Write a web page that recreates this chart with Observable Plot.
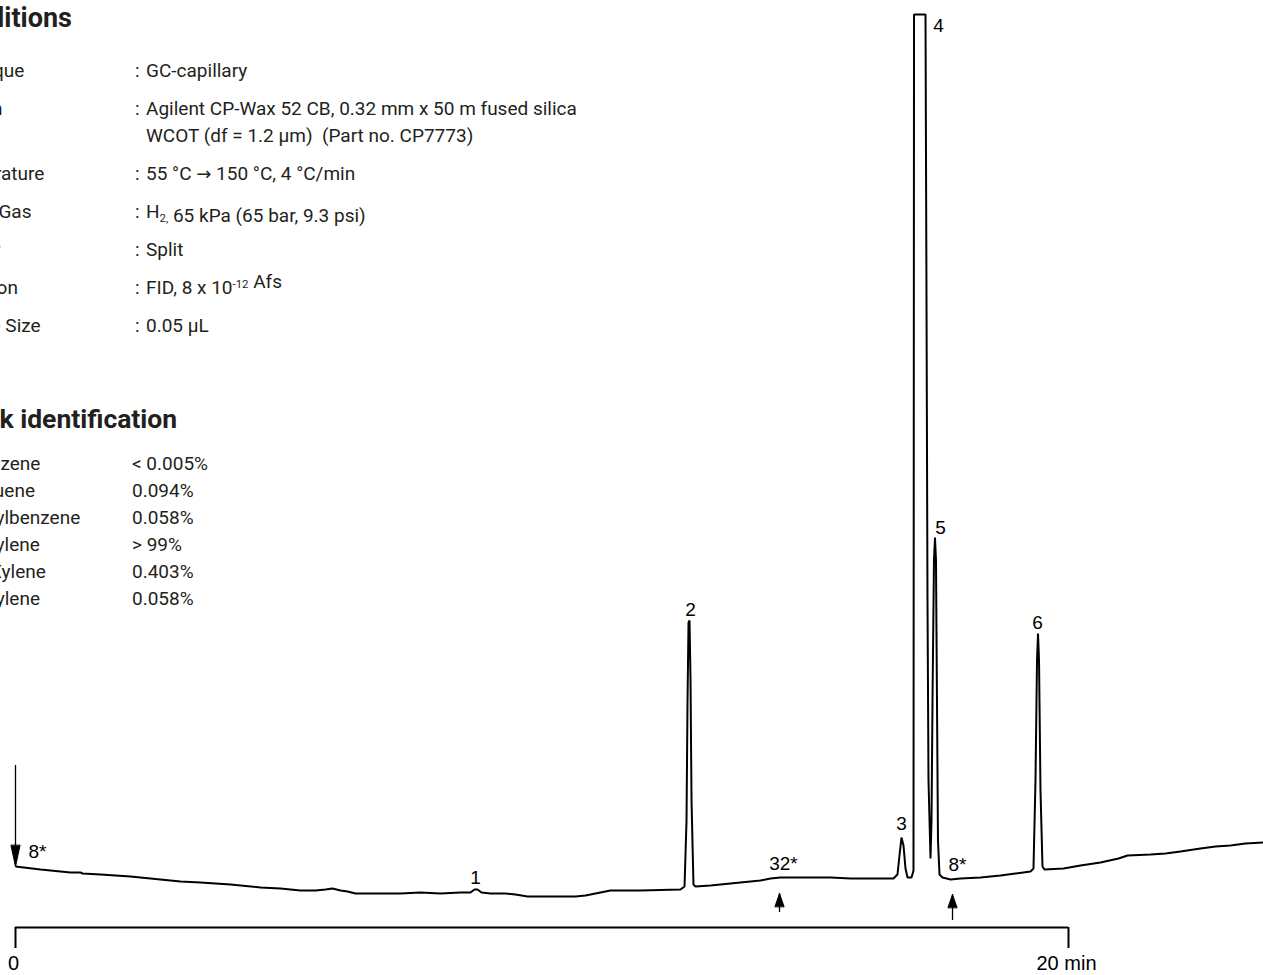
<!DOCTYPE html>
<html>
<head>
<meta charset="utf-8">
<script src="https://cdn.jsdelivr.net/npm/d3@7"></script>
<script src="https://cdn.jsdelivr.net/npm/@observablehq/plot@0.6"></script>
<style>
  html, body { margin: 0; padding: 0; background: #fff; }
  #wrap { position: relative; width: 1263px; height: 975px; overflow: hidden; }
</style>
</head>
<body>
<div id="wrap"></div>
<script>
// ---------- Chromatogram trace (retention time in min, detector response in arbitrary units) ----------
const traceTime = [
  0, 0.475, 1.045, 1.235, 1.273, 1.614, 2.184, 2.564, 2.944, 3.134, 3.514, 4.084, 4.653, 5.033,
  5.413, 5.698, 5.888, 6.021, 6.173, 6.306, 6.458, 6.932, 7.312, 7.692, 8.072, 8.452, 8.642,
  8.718, 8.775, 8.851, 9.022, 9.307, 9.497, 9.725, 10.066, 10.351, 10.636, 10.826, 11.111,
  11.301, 11.871, 12.630, 12.707, 12.745, 12.764, 12.783, 12.802, 12.821, 12.840, 12.877,
  12.916, 13.200, 13.580, 13.960, 14.150, 14.340, 14.530, 14.910, 15.480, 15.859, 16.239,
  16.676, 16.752, 16.790, 16.828, 16.866, 16.904, 16.942, 17.018, 17.056, 17.066, 17.284,
  17.303, 17.322, 17.341, 17.379, 17.398, 17.417, 17.445, 17.464, 17.483, 17.502, 17.521,
  17.550, 17.607, 17.759, 17.949, 18.329, 18.708, 18.993, 19.278, 19.335, 19.373, 19.402,
  19.421, 19.440, 19.468, 19.506, 19.544, 19.905, 20.228, 20.608, 20.950, 21.121, 21.557,
  21.842, 22.127, 22.507, 22.792, 23.077, 23.362, 23.704
];
const traceSignal = [
  61, 58, 55, 55, 54, 53, 51, 49, 47, 46, 45, 43, 40, 39,
  37, 37, 38, 39, 37, 36, 34, 34, 34, 35, 34, 35, 35,
  38, 38, 35, 34, 34, 33, 31, 31, 31, 31, 32, 35,
  37, 37, 38, 41, 107, 227, 305, 307, 247, 127, 43,
  41, 42, 44, 46, 47, 49, 50, 50, 50, 49, 49,
  49, 53, 72, 90, 82, 59, 50, 50, 57, 913, 913,
  627, 327, 147, 69, 107, 227, 367, 390, 367, 227, 87,
  53, 50, 48, 49, 50, 52, 54, 56, 59, 147, 267,
  294, 267, 137, 61, 58, 59, 62, 65, 69, 72, 73,
  74, 76, 79, 81, 82, 84, 85
];

// ---------- Peak numbers ----------
const peakNumbers = ["1", "2", "3", "4", "5", "6"];
const peakLabelTime = [8.737, 12.821, 16.828, 17.531, 17.569, 19.411];
const peakLabelSignal = [50, 318, 104, 902, 400, 305];

// ---------- Attenuation changes ----------
const attenText = ["8*", "32*", "8*"];
const attenLabelTime = [0.418, 14.587, 17.892];
const attenLabelSignal = [76, 64, 63];
const attenArrowTime = [0, 14.511, 17.797];
const attenArrowTip = [61, 34, 33];
const attenArrowTail = [162, 15, 7];
const attenArrowDir = ["down", "up", "up"];

// ---------- Time axis ----------
const axisTicks = [0, 20];
const axisTickLabels = ["0", "20 min"];

// ---------- Conditions & peak identification ----------
const conditionsTitle = "Conditions";
const conditionLabels = ["Technique", "Column", "Temperature", "Carrier Gas", "Injector", "Detection", "Sample Size"];
const conditionValues = [
  ["GC-capillary"],
  ["Agilent CP-Wax 52 CB, 0.32 mm x 50 m fused silica", "WCOT (df = 1.2 µm)  (Part no. CP7773)"],
  ["55 °C → 150 °C, 4 °C/min"],
  ["H_{2,} 65 kPa (65 bar, 9.3 psi)"],
  ["Split"],
  ["FID, 8 x 10^{-12} Afs"],
  ["0.05 µL"]
];
const peakTitle = "Peak identification";
const peakNames = ["Benzene", "Toluene", "Ethylbenzene", "p-Xylene", "m-Xylene", "o-Xylene"];
const peakAmounts = ["< 0.005%", "0.094%", "0.058%", "> 99%", "0.403%", "0.058%"];

// ---------- Build tables ----------
const trace = traceTime.map((t, i) => ({t, s: traceSignal[i]}));
const peaks = peakNumbers.map((n, i) => ({n, t: peakLabelTime[i], s: peakLabelSignal[i]}));
const atten = attenText.map((a, i) => ({
  a, t: attenLabelTime[i], s: attenLabelSignal[i], at: attenArrowTime[i],
  tip: attenArrowTip[i], tail: attenArrowTail[i], dir: attenArrowDir[i]
}));
const axisLabelData = axisTicks.map((t, i) => ({t, label: axisTickLabels[i]}));

const LABEL_FONT = "'Liberation Sans', Arial, Helvetica, sans-serif";

const headShape = {
  draw(context, l, r) {
    context.moveTo(-r, 0);
    context.lineTo(0, -l);
    context.lineTo(r, 0);
    context.closePath();
  }
};

const plot = Plot.plot({
  width: 1263,
  height: 975,
  margin: 0,
  x: {domain: [-0.2849, 23.7037], axis: null},
  y: {domain: [-48, 927], axis: null},
  style: {background: "#fff", color: "#000"},
  marks: [
    // time axis
    Plot.ruleY([0], {x1: 0, x2: 20, stroke: "#000", strokeWidth: 2}),
    Plot.ruleX(axisTicks, {y1: 0, y2: -21, stroke: "#000", strokeWidth: 2}),
    Plot.text(axisLabelData, {x: "t", y: -36, text: "label", fontSize: 20, fontFamily: LABEL_FONT, fill: "#000", dx: -2}),
    // trace
    Plot.line(trace, {x: "t", y: "s", stroke: "#000", strokeWidth: 2, strokeLinejoin: "miter", strokeLinecap: "butt"}),
    // peak numbers
    Plot.text(peaks, {x: "t", y: "s", text: "n", fontSize: 19, fontFamily: LABEL_FONT, fill: "#000"}),
    // attenuation arrows
    Plot.ruleX(atten, {x: "at", y1: "tip", y2: "tail", stroke: "#000", strokeWidth: 1.3}),
    Plot.vector(atten.filter(d => d.dir === "down"), {x: "at", y: "tip", length: 21, r: 4.5, rotate: 180, anchor: "end", shape: headShape, fill: "#000", stroke: "#000", strokeWidth: 1}),
    Plot.vector(atten.filter(d => d.dir === "up"), {x: "at", y: "tip", length: 13, r: 4.5, rotate: 0, anchor: "end", shape: headShape, fill: "#000", stroke: "#000", strokeWidth: 1}),
    Plot.text(atten, {x: "t", y: "s", text: "a", fontSize: 19, fontFamily: LABEL_FONT, fill: "#000"})
  ]
});

document.getElementById("wrap").appendChild(plot);

// ---------- Text blocks (drawn into the same SVG) ----------
const TEXT_FONT = "Roboto, 'Liberation Sans', sans-serif";
const svg = d3.select(plot);
const g = svg.append("g")
  .attr("font-family", TEXT_FONT)
  .attr("fill", "#231f20")
  .attr("text-anchor", "start")
  .style("white-space", "pre");

function addRich(sel, str, size) {
  const parts = str.split(/(_\{[^}]*\}|\^\{[^}]*\}|→)/).filter(p => p.length);
  parts.forEach(p => {
    if (p.startsWith("_{")) {
      sel.append("tspan").attr("dy", 4).attr("font-size", size * 0.6).text(p.slice(2, -1));
      sel.append("tspan").attr("dy", -4).text("");
    } else if (p.startsWith("^{")) {
      sel.append("tspan").attr("dy", -6).attr("font-size", size * 0.6).text(p.slice(2, -1));
      sel.append("tspan").attr("dy", 6).text("");
    } else if (p === "→") {
      sel.append("tspan").attr("font-family", "'DejaVu Sans', sans-serif").attr("font-size", size * 0.95).text(p);
    } else {
      sel.append("tspan").text(p);
    }
  });
}

const BODY = 19;
const TITLE = 27;
const condLabelX = -63, colonX = 135, condValueX = 146;
g.append("text").attr("x", -59).attr("y", 27).attr("font-size", TITLE).attr("font-weight", "bold").text(conditionsTitle);
let base = 77;
conditionLabels.forEach((lab, i) => {
  g.append("text").attr("x", condLabelX).attr("y", base).attr("font-size", BODY).text(lab);
  g.append("text").attr("x", colonX).attr("y", base).attr("font-size", BODY).text(":");
  conditionValues[i].forEach((line, j) => {
    const t = g.append("text").attr("x", condValueX).attr("y", base).attr("font-size", BODY);
    addRich(t, line, BODY);
    if (j < conditionValues[i].length - 1) base += 27;
  });
  base += 38;
});

g.append("text").attr("x", -46).attr("y", 428).attr("font-size", TITLE - 0.5).attr("font-weight", "bold").text(peakTitle);
peakNames.forEach((name, i) => {
  const y = 470 + i * 27;
  g.append("text").attr("x", -32).attr("y", y).attr("font-size", BODY).text(name);
  g.append("text").attr("x", 132).attr("y", y).attr("font-size", BODY).text(peakAmounts[i]);
});
</script>
</body>
</html>
